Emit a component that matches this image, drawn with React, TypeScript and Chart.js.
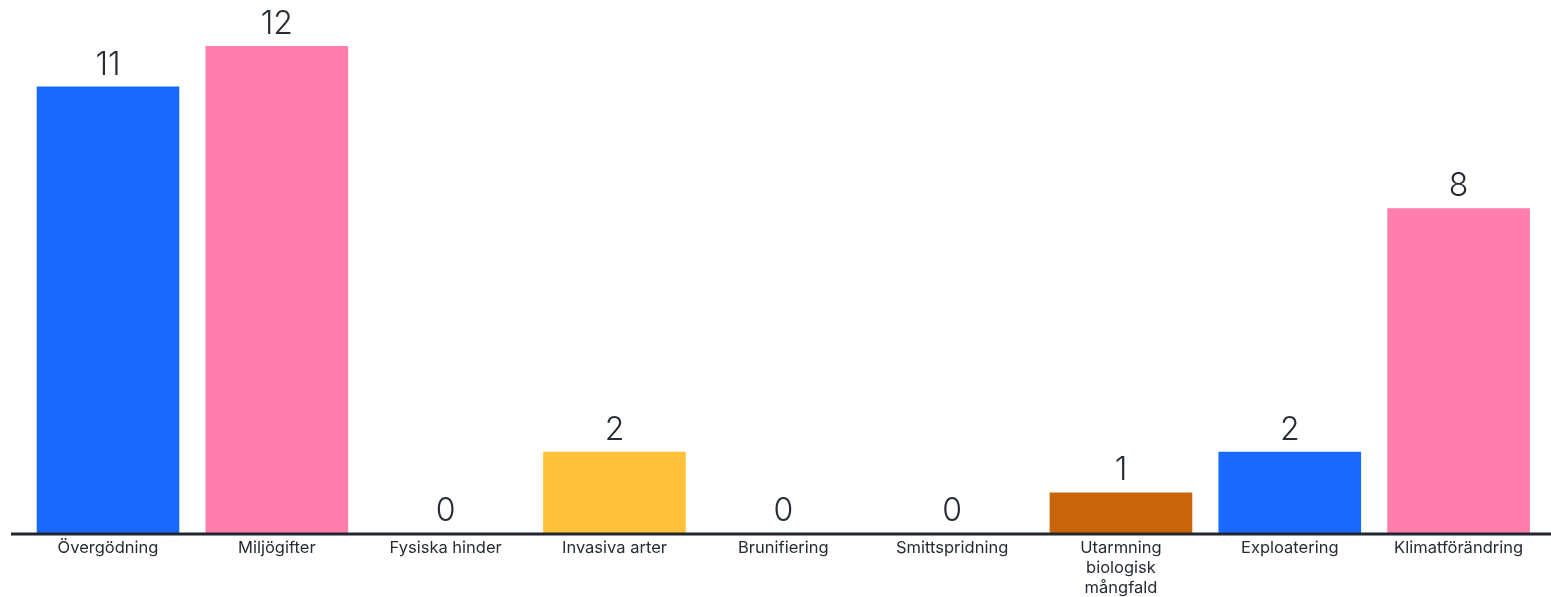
import React, { useEffect, useRef } from "react";
import { Chart, registerables } from "chart.js";

Chart.register(...registerables);

const categories: (string | string[])[] = [
  "Övergödning",
  "Miljögifter",
  "Fysiska hinder",
  "Invasiva arter",
  "Brunifiering",
  "Smittspridning",
  ["Utarmning", "biologisk", "mångfald"],
  "Exploatering",
  "Klimatförändring",
];
const values = [11, 12, 0, 2, 0, 0, 1, 2, 8];
const barColors = [
  "#1a69ff",
  "#ff7eab",
  "#2bb673",
  "#ffc13a",
  "#7a4fd6",
  "#00a3a3",
  "#c8650a",
  "#1a69ff",
  "#ff7eab",
];

const TEXT = "#262b34";

const valueLabels = {
  id: "valueLabels",
  afterDatasetsDraw(chart: any) {
    const ctx = chart.ctx;
    const meta = chart.getDatasetMeta(0);
    ctx.save();
    ctx.font = '300 32px "Inter", "Noto Sans", sans-serif';
    ctx.fillStyle = TEXT;
    ctx.textAlign = "center";
    ctx.textBaseline = "alphabetic";
    meta.data.forEach((bar: any, i: number) => {
      ctx.fillText(String(values[i]), bar.x, bar.y - 12);
    });
    ctx.restore();
  },
};

const baseLine = {
  id: "baseLine",
  afterDraw(chart: any) {
    const ctx = chart.ctx;
    const y = chart.scales.y.getPixelForValue(0);
    ctx.save();
    ctx.strokeStyle = "#22272f";
    ctx.lineWidth = 3;
    ctx.beginPath();
    ctx.moveTo(11, y + 1);
    ctx.lineTo(chart.width, y + 1);
    ctx.stroke();
    ctx.restore();
  },
};

export default function App() {
  const ref = useRef<HTMLCanvasElement>(null);
  useEffect(() => {
    document.body.style.margin = "0";
    const chart = new Chart(ref.current!, {
      type: "bar",
      data: {
        labels: categories,
        datasets: [
          {
            data: values,
            backgroundColor: barColors,
            borderWidth: 0,
            categoryPercentage: 0.845,
            barPercentage: 1,
          },
        ],
      },
      options: {
        animation: false,
        responsive: false,
        layout: { padding: { top: 46, left: 23.6, right: 8, bottom: 0 } },
        plugins: {
          legend: { display: false },
          tooltip: { enabled: false },
        },
        scales: {
          x: {
            grid: { display: false, drawTicks: false },
            border: { display: false },
            ticks: {
              color: TEXT,
              font: { family: '"Inter", "Noto Sans", sans-serif', size: 16.5, lineHeight: 1.21 },
              padding: 5,
              maxRotation: 0,
              autoSkip: false,
            },
            afterFit(scale: any) {
              scale.height = 64;
            },
          },
          y: {
            display: false,
            min: 0,
            max: 12,
          },
        },
      },
      plugins: [valueLabels, baseLine],
    });
    return () => chart.destroy();
  }, []);
  return <canvas ref={ref} width={1551} height={597} style={{ display: "block" }} />;
}
